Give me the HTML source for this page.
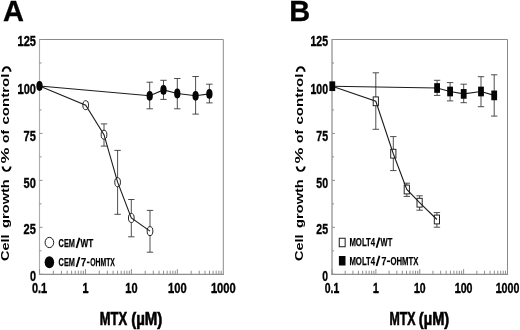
<!DOCTYPE html>
<html><head><meta charset="utf-8"><title>Cell growth vs MTX</title>
<style>
html,body{margin:0;padding:0;background:#fff;}
body{width:520px;height:330px;overflow:hidden;}
svg{display:block;will-change:transform;filter:blur(0.3px);}
text{font-family:"Liberation Sans",sans-serif;fill:#000;}
</style></head>
<body>
<svg width="520" height="330" viewBox="0 0 520 330">
<rect width="520" height="330" fill="#fff"/>
<path d="M39.5 39.5H223.3V274.3" fill="none" stroke="#8a8a8a" stroke-width="1"/>
<line x1="39.5" y1="39" x2="39.5" y2="274.3" stroke="#adadad" stroke-width="1.15"/>
<line x1="38.92" y1="274.3" x2="223.8" y2="274.3" stroke="#747474" stroke-width="1"/>
<line x1="39.5" y1="274.3" x2="42.5" y2="274.3" stroke="#8f8f8f" stroke-width="1"/>
<line x1="39.5" y1="250.82" x2="41.5" y2="250.82" stroke="#8f8f8f" stroke-width="1"/>
<line x1="39.5" y1="227.34" x2="42.5" y2="227.34" stroke="#8f8f8f" stroke-width="1"/>
<line x1="39.5" y1="203.86" x2="41.5" y2="203.86" stroke="#8f8f8f" stroke-width="1"/>
<line x1="39.5" y1="180.38" x2="42.5" y2="180.38" stroke="#8f8f8f" stroke-width="1"/>
<line x1="39.5" y1="156.9" x2="41.5" y2="156.9" stroke="#8f8f8f" stroke-width="1"/>
<line x1="39.5" y1="133.42" x2="42.5" y2="133.42" stroke="#8f8f8f" stroke-width="1"/>
<line x1="39.5" y1="109.94" x2="41.5" y2="109.94" stroke="#8f8f8f" stroke-width="1"/>
<line x1="39.5" y1="86.46" x2="42.5" y2="86.46" stroke="#8f8f8f" stroke-width="1"/>
<line x1="39.5" y1="62.98" x2="41.5" y2="62.98" stroke="#8f8f8f" stroke-width="1"/>
<line x1="39.5" y1="39.5" x2="42.5" y2="39.5" stroke="#8f8f8f" stroke-width="1"/>
<line x1="39.5" y1="274.3" x2="39.5" y2="269.1" stroke="#8f8f8f" stroke-width="1"/>
<line x1="53.33" y1="274.3" x2="53.33" y2="270.7" stroke="#8f8f8f" stroke-width="1"/>
<line x1="61.42" y1="274.3" x2="61.42" y2="270.7" stroke="#8f8f8f" stroke-width="1"/>
<line x1="67.16" y1="274.3" x2="67.16" y2="270.7" stroke="#8f8f8f" stroke-width="1"/>
<line x1="71.62" y1="274.3" x2="71.62" y2="270.7" stroke="#8f8f8f" stroke-width="1"/>
<line x1="75.26" y1="274.3" x2="75.26" y2="270.7" stroke="#8f8f8f" stroke-width="1"/>
<line x1="78.33" y1="274.3" x2="78.33" y2="270.7" stroke="#8f8f8f" stroke-width="1"/>
<line x1="81" y1="274.3" x2="81" y2="270.7" stroke="#8f8f8f" stroke-width="1"/>
<line x1="83.35" y1="274.3" x2="83.35" y2="270.7" stroke="#8f8f8f" stroke-width="1"/>
<line x1="85.45" y1="274.3" x2="85.45" y2="269.1" stroke="#8f8f8f" stroke-width="1"/>
<line x1="99.28" y1="274.3" x2="99.28" y2="270.7" stroke="#8f8f8f" stroke-width="1"/>
<line x1="107.37" y1="274.3" x2="107.37" y2="270.7" stroke="#8f8f8f" stroke-width="1"/>
<line x1="113.11" y1="274.3" x2="113.11" y2="270.7" stroke="#8f8f8f" stroke-width="1"/>
<line x1="117.57" y1="274.3" x2="117.57" y2="270.7" stroke="#8f8f8f" stroke-width="1"/>
<line x1="121.21" y1="274.3" x2="121.21" y2="270.7" stroke="#8f8f8f" stroke-width="1"/>
<line x1="124.28" y1="274.3" x2="124.28" y2="270.7" stroke="#8f8f8f" stroke-width="1"/>
<line x1="126.95" y1="274.3" x2="126.95" y2="270.7" stroke="#8f8f8f" stroke-width="1"/>
<line x1="129.3" y1="274.3" x2="129.3" y2="270.7" stroke="#8f8f8f" stroke-width="1"/>
<line x1="131.4" y1="274.3" x2="131.4" y2="269.1" stroke="#8f8f8f" stroke-width="1"/>
<line x1="145.23" y1="274.3" x2="145.23" y2="270.7" stroke="#8f8f8f" stroke-width="1"/>
<line x1="153.32" y1="274.3" x2="153.32" y2="270.7" stroke="#8f8f8f" stroke-width="1"/>
<line x1="159.06" y1="274.3" x2="159.06" y2="270.7" stroke="#8f8f8f" stroke-width="1"/>
<line x1="163.52" y1="274.3" x2="163.52" y2="270.7" stroke="#8f8f8f" stroke-width="1"/>
<line x1="167.16" y1="274.3" x2="167.16" y2="270.7" stroke="#8f8f8f" stroke-width="1"/>
<line x1="170.23" y1="274.3" x2="170.23" y2="270.7" stroke="#8f8f8f" stroke-width="1"/>
<line x1="172.9" y1="274.3" x2="172.9" y2="270.7" stroke="#8f8f8f" stroke-width="1"/>
<line x1="175.25" y1="274.3" x2="175.25" y2="270.7" stroke="#8f8f8f" stroke-width="1"/>
<line x1="177.35" y1="274.3" x2="177.35" y2="269.1" stroke="#8f8f8f" stroke-width="1"/>
<line x1="191.18" y1="274.3" x2="191.18" y2="270.7" stroke="#8f8f8f" stroke-width="1"/>
<line x1="199.27" y1="274.3" x2="199.27" y2="270.7" stroke="#8f8f8f" stroke-width="1"/>
<line x1="205.01" y1="274.3" x2="205.01" y2="270.7" stroke="#8f8f8f" stroke-width="1"/>
<line x1="209.47" y1="274.3" x2="209.47" y2="270.7" stroke="#8f8f8f" stroke-width="1"/>
<line x1="213.11" y1="274.3" x2="213.11" y2="270.7" stroke="#8f8f8f" stroke-width="1"/>
<line x1="216.18" y1="274.3" x2="216.18" y2="270.7" stroke="#8f8f8f" stroke-width="1"/>
<line x1="218.85" y1="274.3" x2="218.85" y2="270.7" stroke="#8f8f8f" stroke-width="1"/>
<line x1="221.2" y1="274.3" x2="221.2" y2="270.7" stroke="#8f8f8f" stroke-width="1"/>
<text x="35.9" y="281.3" text-anchor="end" font-size="13.9" font-weight="bold" stroke="#000" stroke-width="0.35" textLength="6.0" lengthAdjust="spacingAndGlyphs">0</text>
<text x="35.9" y="234.34" text-anchor="end" font-size="13.9" font-weight="bold" stroke="#000" stroke-width="0.35" textLength="12.3" lengthAdjust="spacingAndGlyphs">25</text>
<text x="35.9" y="187.53" text-anchor="end" font-size="13.9" font-weight="bold" stroke="#000" stroke-width="0.35" textLength="12.3" lengthAdjust="spacingAndGlyphs">50</text>
<text x="35.9" y="140.57" text-anchor="end" font-size="13.9" font-weight="bold" stroke="#000" stroke-width="0.35" textLength="12.3" lengthAdjust="spacingAndGlyphs">75</text>
<text x="35.9" y="93.61" text-anchor="end" font-size="13.9" font-weight="bold" stroke="#000" stroke-width="0.35" textLength="18.4" lengthAdjust="spacingAndGlyphs">100</text>
<rect x="18.11" y="91.91" width="5.27" height="1.7" fill="#000"/>
<text x="35.9" y="46" text-anchor="end" font-size="13.9" font-weight="bold" stroke="#000" stroke-width="0.35" textLength="18.4" lengthAdjust="spacingAndGlyphs">125</text>
<rect x="18.11" y="44.3" width="5.27" height="1.7" fill="#000"/>
<text x="39.5" y="292.8" text-anchor="middle" font-size="13.9" font-weight="bold" stroke="#000" stroke-width="0.35" textLength="15.2" lengthAdjust="spacingAndGlyphs">0.1</text>
<rect x="41.63" y="291.1" width="5.23" height="1.7" fill="#000"/>
<text x="85.45" y="292.8" text-anchor="middle" font-size="13.9" font-weight="bold" stroke="#000" stroke-width="0.35" textLength="6" lengthAdjust="spacingAndGlyphs">1</text>
<rect x="83.05" y="291.1" width="5.16" height="1.7" fill="#000"/>
<text x="131.4" y="292.8" text-anchor="middle" font-size="13.9" font-weight="bold" stroke="#000" stroke-width="0.35" textLength="12.2" lengthAdjust="spacingAndGlyphs">10</text>
<rect x="125.91" y="291.1" width="5.25" height="1.7" fill="#000"/>
<text x="177.35" y="292.8" text-anchor="middle" font-size="13.9" font-weight="bold" stroke="#000" stroke-width="0.35" textLength="18.6" lengthAdjust="spacingAndGlyphs">100</text>
<rect x="168.67" y="291.1" width="5.33" height="1.7" fill="#000"/>
<text x="223.3" y="292.8" text-anchor="middle" font-size="13.9" font-weight="bold" stroke="#000" stroke-width="0.35" textLength="24.8" lengthAdjust="spacingAndGlyphs">1000</text>
<rect x="211.52" y="291.1" width="5.33" height="1.7" fill="#000"/>
<text x="99.8" y="324.8" font-size="17.5" font-weight="bold" stroke="#000" stroke-width="0.6" textLength="27.3" lengthAdjust="spacingAndGlyphs">MTX</text>
<text x="131.2" y="324.8" font-size="17.5" font-weight="bold" stroke="#000" stroke-width="0.6" textLength="31.2" lengthAdjust="spacingAndGlyphs">(µM)</text>
<text transform="translate(9.1,261) rotate(-90)" font-size="10.2" font-weight="bold" textLength="26.6" lengthAdjust="spacingAndGlyphs">Cell</text>
<text transform="translate(9.1,227.9) rotate(-90)" font-size="10.2" font-weight="bold" textLength="48.7" lengthAdjust="spacingAndGlyphs">growth</text>
<text transform="translate(9.1,163.6) rotate(-90)" font-size="10.2" font-weight="bold" textLength="16.0" lengthAdjust="spacingAndGlyphs">%</text>
<text transform="translate(9.1,143) rotate(-90)" font-size="10.2" font-weight="bold" textLength="13.0" lengthAdjust="spacingAndGlyphs">of</text>
<text transform="translate(9.1,124.5) rotate(-90)" font-size="10.2" font-weight="bold" textLength="50.9" lengthAdjust="spacingAndGlyphs">control</text>
<path d="M2.5 166.5C3.7 172.4 9.5 172.4 10.7 166.5" fill="none" stroke="#000" stroke-width="1.9"/>
<path d="M2.5 71.7C3.7 65.8 9.5 65.8 10.7 71.7" fill="none" stroke="#000" stroke-width="1.9"/>
<text x="2.9" y="21.2" font-size="29" font-weight="bold" stroke="#000" stroke-width="0.3">A</text>
<path d="M104 123.9V146.1M100.8 123.9H107.2M100.8 146.1H107.2" stroke="#3a3a3a" stroke-width="0.9" fill="none"/>
<path d="M117.6 150.4V214.3M114.4 150.4H120.8M114.4 214.3H120.8" stroke="#3a3a3a" stroke-width="0.9" fill="none"/>
<path d="M131.3 199.5V236.8M128.1 199.5H134.5M128.1 236.8H134.5" stroke="#3a3a3a" stroke-width="0.9" fill="none"/>
<path d="M150 210.4V252.2M146.8 210.4H153.2M146.8 252.2H153.2" stroke="#3a3a3a" stroke-width="0.9" fill="none"/>
<ellipse cx="85.7" cy="105.2" rx="2.85" ry="4.5" fill="#fff" stroke="#1a1a1a" stroke-width="0.95"/>
<ellipse cx="104" cy="134.7" rx="2.85" ry="4.5" fill="#fff" stroke="#1a1a1a" stroke-width="0.95"/>
<ellipse cx="117.6" cy="182.2" rx="2.85" ry="4.5" fill="#fff" stroke="#1a1a1a" stroke-width="0.95"/>
<ellipse cx="131.3" cy="218" rx="2.85" ry="4.5" fill="#fff" stroke="#1a1a1a" stroke-width="0.95"/>
<ellipse cx="150" cy="231.1" rx="2.85" ry="4.5" fill="#fff" stroke="#1a1a1a" stroke-width="0.95"/>
<path d="M39.5 86L85.7 105.2L104 134.7L117.6 182.2L131.3 218L150 231.1" fill="none" stroke="#1c1c1c" stroke-width="1.1"/>
<path d="M149.7 82.2V108.8M146.5 82.2H152.9M146.5 108.8H152.9" stroke="#3a3a3a" stroke-width="0.9" fill="none"/>
<path d="M163.5 80.3V99.4M160.3 80.3H166.7M160.3 99.4H166.7" stroke="#3a3a3a" stroke-width="0.9" fill="none"/>
<path d="M177.3 78.5V108.8M174.1 78.5H180.5M174.1 108.8H180.5" stroke="#3a3a3a" stroke-width="0.9" fill="none"/>
<path d="M195.6 76.5V114.1M192.4 76.5H198.8M192.4 114.1H198.8" stroke="#3a3a3a" stroke-width="0.9" fill="none"/>
<path d="M209.4 84.2V102.9M206.2 84.2H212.6M206.2 102.9H212.6" stroke="#3a3a3a" stroke-width="0.9" fill="none"/>
<path d="M39.5 86L149.7 95.8L163.5 89.9L177.3 93.5L195.6 95.8L209.4 93.9" fill="none" stroke="#1c1c1c" stroke-width="1.1"/>
<ellipse cx="39.5" cy="86" rx="3.15" ry="4.9" fill="#050505"/>
<ellipse cx="149.7" cy="95.8" rx="3.15" ry="4.9" fill="#050505"/>
<ellipse cx="163.5" cy="89.9" rx="3.15" ry="4.9" fill="#050505"/>
<ellipse cx="177.3" cy="93.5" rx="3.15" ry="4.9" fill="#050505"/>
<ellipse cx="195.6" cy="95.8" rx="3.15" ry="4.9" fill="#050505"/>
<ellipse cx="209.4" cy="93.9" rx="3.15" ry="4.9" fill="#050505"/>
<ellipse cx="49.4" cy="242.5" rx="4.3" ry="5.15" fill="#fff" stroke="#1a1a1a" stroke-width="1"/>
<ellipse cx="49.4" cy="262.2" rx="4.75" ry="5.95" fill="#050505"/>
<text x="58.6" y="246.6" font-size="11.8" font-weight="bold" stroke="#000" stroke-width="0.25" textLength="16.3" lengthAdjust="spacingAndGlyphs">CEM</text>
<line x1="76.5" y1="248" x2="79.5" y2="237.8" stroke="#000" stroke-width="1.75"/>
<text x="80.6" y="246.6" font-size="11.8" font-weight="bold" stroke="#000" stroke-width="0.25" textLength="12.7" lengthAdjust="spacingAndGlyphs">WT</text>
<text x="58.6" y="265.7" font-size="11.8" font-weight="bold" stroke="#000" stroke-width="0.25" textLength="16.3" lengthAdjust="spacingAndGlyphs">CEM</text>
<line x1="76.5" y1="267.1" x2="79.5" y2="256.9" stroke="#000" stroke-width="1.75"/>
<text x="80.9" y="265.7" font-size="11.8" font-weight="bold" stroke="#000" stroke-width="0.25" textLength="5.2" lengthAdjust="spacingAndGlyphs">7</text>
<rect x="86.9" y="261.6" width="2.6" height="1.6" fill="#000"/>
<text x="90.2" y="265.7" font-size="11.8" font-weight="bold" stroke="#000" stroke-width="0.25" textLength="24.7" lengthAdjust="spacingAndGlyphs">OHMTX</text>
<path d="M332 39.5H507.5V274.3" fill="none" stroke="#8a8a8a" stroke-width="1"/>
<line x1="332" y1="39" x2="332" y2="274.3" stroke="#adadad" stroke-width="1.7"/>
<line x1="331.15" y1="274.3" x2="508" y2="274.3" stroke="#747474" stroke-width="1"/>
<line x1="332" y1="274.3" x2="335" y2="274.3" stroke="#8f8f8f" stroke-width="1"/>
<line x1="332" y1="250.82" x2="334" y2="250.82" stroke="#8f8f8f" stroke-width="1"/>
<line x1="332" y1="227.34" x2="335" y2="227.34" stroke="#8f8f8f" stroke-width="1"/>
<line x1="332" y1="203.86" x2="334" y2="203.86" stroke="#8f8f8f" stroke-width="1"/>
<line x1="332" y1="180.38" x2="335" y2="180.38" stroke="#8f8f8f" stroke-width="1"/>
<line x1="332" y1="156.9" x2="334" y2="156.9" stroke="#8f8f8f" stroke-width="1"/>
<line x1="332" y1="133.42" x2="335" y2="133.42" stroke="#8f8f8f" stroke-width="1"/>
<line x1="332" y1="109.94" x2="334" y2="109.94" stroke="#8f8f8f" stroke-width="1"/>
<line x1="332" y1="86.46" x2="335" y2="86.46" stroke="#8f8f8f" stroke-width="1"/>
<line x1="332" y1="62.98" x2="334" y2="62.98" stroke="#8f8f8f" stroke-width="1"/>
<line x1="332" y1="39.5" x2="335" y2="39.5" stroke="#8f8f8f" stroke-width="1"/>
<line x1="332" y1="274.3" x2="332" y2="269.1" stroke="#8f8f8f" stroke-width="1"/>
<line x1="345.21" y1="274.3" x2="345.21" y2="270.7" stroke="#8f8f8f" stroke-width="1"/>
<line x1="352.93" y1="274.3" x2="352.93" y2="270.7" stroke="#8f8f8f" stroke-width="1"/>
<line x1="358.42" y1="274.3" x2="358.42" y2="270.7" stroke="#8f8f8f" stroke-width="1"/>
<line x1="362.67" y1="274.3" x2="362.67" y2="270.7" stroke="#8f8f8f" stroke-width="1"/>
<line x1="366.14" y1="274.3" x2="366.14" y2="270.7" stroke="#8f8f8f" stroke-width="1"/>
<line x1="369.08" y1="274.3" x2="369.08" y2="270.7" stroke="#8f8f8f" stroke-width="1"/>
<line x1="371.62" y1="274.3" x2="371.62" y2="270.7" stroke="#8f8f8f" stroke-width="1"/>
<line x1="373.87" y1="274.3" x2="373.87" y2="270.7" stroke="#8f8f8f" stroke-width="1"/>
<line x1="375.88" y1="274.3" x2="375.88" y2="269.1" stroke="#8f8f8f" stroke-width="1"/>
<line x1="389.08" y1="274.3" x2="389.08" y2="270.7" stroke="#8f8f8f" stroke-width="1"/>
<line x1="396.81" y1="274.3" x2="396.81" y2="270.7" stroke="#8f8f8f" stroke-width="1"/>
<line x1="402.29" y1="274.3" x2="402.29" y2="270.7" stroke="#8f8f8f" stroke-width="1"/>
<line x1="406.54" y1="274.3" x2="406.54" y2="270.7" stroke="#8f8f8f" stroke-width="1"/>
<line x1="410.02" y1="274.3" x2="410.02" y2="270.7" stroke="#8f8f8f" stroke-width="1"/>
<line x1="412.95" y1="274.3" x2="412.95" y2="270.7" stroke="#8f8f8f" stroke-width="1"/>
<line x1="415.5" y1="274.3" x2="415.5" y2="270.7" stroke="#8f8f8f" stroke-width="1"/>
<line x1="417.74" y1="274.3" x2="417.74" y2="270.7" stroke="#8f8f8f" stroke-width="1"/>
<line x1="419.75" y1="274.3" x2="419.75" y2="269.1" stroke="#8f8f8f" stroke-width="1"/>
<line x1="432.96" y1="274.3" x2="432.96" y2="270.7" stroke="#8f8f8f" stroke-width="1"/>
<line x1="440.68" y1="274.3" x2="440.68" y2="270.7" stroke="#8f8f8f" stroke-width="1"/>
<line x1="446.17" y1="274.3" x2="446.17" y2="270.7" stroke="#8f8f8f" stroke-width="1"/>
<line x1="450.42" y1="274.3" x2="450.42" y2="270.7" stroke="#8f8f8f" stroke-width="1"/>
<line x1="453.89" y1="274.3" x2="453.89" y2="270.7" stroke="#8f8f8f" stroke-width="1"/>
<line x1="456.83" y1="274.3" x2="456.83" y2="270.7" stroke="#8f8f8f" stroke-width="1"/>
<line x1="459.37" y1="274.3" x2="459.37" y2="270.7" stroke="#8f8f8f" stroke-width="1"/>
<line x1="461.62" y1="274.3" x2="461.62" y2="270.7" stroke="#8f8f8f" stroke-width="1"/>
<line x1="463.62" y1="274.3" x2="463.62" y2="269.1" stroke="#8f8f8f" stroke-width="1"/>
<line x1="476.83" y1="274.3" x2="476.83" y2="270.7" stroke="#8f8f8f" stroke-width="1"/>
<line x1="484.56" y1="274.3" x2="484.56" y2="270.7" stroke="#8f8f8f" stroke-width="1"/>
<line x1="490.04" y1="274.3" x2="490.04" y2="270.7" stroke="#8f8f8f" stroke-width="1"/>
<line x1="494.29" y1="274.3" x2="494.29" y2="270.7" stroke="#8f8f8f" stroke-width="1"/>
<line x1="497.77" y1="274.3" x2="497.77" y2="270.7" stroke="#8f8f8f" stroke-width="1"/>
<line x1="500.7" y1="274.3" x2="500.7" y2="270.7" stroke="#8f8f8f" stroke-width="1"/>
<line x1="503.25" y1="274.3" x2="503.25" y2="270.7" stroke="#8f8f8f" stroke-width="1"/>
<line x1="505.49" y1="274.3" x2="505.49" y2="270.7" stroke="#8f8f8f" stroke-width="1"/>
<text x="328.1" y="281.3" text-anchor="end" font-size="13.9" font-weight="bold" stroke="#000" stroke-width="0.35" textLength="5.7299999999999995" lengthAdjust="spacingAndGlyphs">0</text>
<text x="328.1" y="234.34" text-anchor="end" font-size="13.9" font-weight="bold" stroke="#000" stroke-width="0.35" textLength="11.746500000000001" lengthAdjust="spacingAndGlyphs">25</text>
<text x="328.1" y="187.53" text-anchor="end" font-size="13.9" font-weight="bold" stroke="#000" stroke-width="0.35" textLength="11.746500000000001" lengthAdjust="spacingAndGlyphs">50</text>
<text x="328.1" y="140.57" text-anchor="end" font-size="13.9" font-weight="bold" stroke="#000" stroke-width="0.35" textLength="11.746500000000001" lengthAdjust="spacingAndGlyphs">75</text>
<text x="328.1" y="93.61" text-anchor="end" font-size="13.9" font-weight="bold" stroke="#000" stroke-width="0.35" textLength="17.572" lengthAdjust="spacingAndGlyphs">100</text>
<rect x="311.11" y="91.91" width="5.04" height="1.7" fill="#000"/>
<text x="328.1" y="46" text-anchor="end" font-size="13.9" font-weight="bold" stroke="#000" stroke-width="0.35" textLength="17.572" lengthAdjust="spacingAndGlyphs">125</text>
<rect x="311.11" y="44.3" width="5.04" height="1.7" fill="#000"/>
<text x="332" y="292.8" text-anchor="middle" font-size="13.9" font-weight="bold" stroke="#000" stroke-width="0.35" textLength="14.515999999999998" lengthAdjust="spacingAndGlyphs">0.1</text>
<rect x="334.03" y="291.1" width="4.99" height="1.7" fill="#000"/>
<text x="375.88" y="292.8" text-anchor="middle" font-size="13.9" font-weight="bold" stroke="#000" stroke-width="0.35" textLength="5.7299999999999995" lengthAdjust="spacingAndGlyphs">1</text>
<rect x="373.58" y="291.1" width="4.93" height="1.7" fill="#000"/>
<text x="419.75" y="292.8" text-anchor="middle" font-size="13.9" font-weight="bold" stroke="#000" stroke-width="0.35" textLength="11.650999999999998" lengthAdjust="spacingAndGlyphs">10</text>
<rect x="414.51" y="291.1" width="5.01" height="1.7" fill="#000"/>
<text x="463.62" y="292.8" text-anchor="middle" font-size="13.9" font-weight="bold" stroke="#000" stroke-width="0.35" textLength="17.763" lengthAdjust="spacingAndGlyphs">100</text>
<rect x="455.34" y="291.1" width="5.09" height="1.7" fill="#000"/>
<text x="507.5" y="292.8" text-anchor="middle" font-size="13.9" font-weight="bold" stroke="#000" stroke-width="0.35" textLength="23.684" lengthAdjust="spacingAndGlyphs">1000</text>
<rect x="496.25" y="291.1" width="5.09" height="1.7" fill="#000"/>
<text x="389.45" y="324.8" font-size="17.5" font-weight="bold" stroke="#000" stroke-width="0.6" textLength="26.1" lengthAdjust="spacingAndGlyphs">MTX</text>
<text x="418.85" y="324.8" font-size="17.5" font-weight="bold" stroke="#000" stroke-width="0.6" textLength="30.4" lengthAdjust="spacingAndGlyphs">(µM)</text>
<text transform="translate(303.2,261) rotate(-90)" font-size="10.2" font-weight="bold" textLength="26.6" lengthAdjust="spacingAndGlyphs">Cell</text>
<text transform="translate(303.2,227.9) rotate(-90)" font-size="10.2" font-weight="bold" textLength="48.7" lengthAdjust="spacingAndGlyphs">growth</text>
<text transform="translate(303.2,163.6) rotate(-90)" font-size="10.2" font-weight="bold" textLength="16.0" lengthAdjust="spacingAndGlyphs">%</text>
<text transform="translate(303.2,143) rotate(-90)" font-size="10.2" font-weight="bold" textLength="13.0" lengthAdjust="spacingAndGlyphs">of</text>
<text transform="translate(303.2,124.5) rotate(-90)" font-size="10.2" font-weight="bold" textLength="50.9" lengthAdjust="spacingAndGlyphs">control</text>
<path d="M296.6 166.5C297.8 172.4 303.6 172.4 304.8 166.5" fill="none" stroke="#000" stroke-width="1.9"/>
<path d="M296.6 71.7C297.8 65.8 303.6 65.8 304.8 71.7" fill="none" stroke="#000" stroke-width="1.9"/>
<text x="289.3" y="21.2" font-size="29" font-weight="bold" stroke="#000" stroke-width="0.3">B</text>
<path d="M375.8 72.8V129.3M372.6 72.8H379M372.6 129.3H379" stroke="#3a3a3a" stroke-width="0.9" fill="none"/>
<path d="M393.3 136.6V170.6M390.1 136.6H396.5M390.1 170.6H396.5" stroke="#3a3a3a" stroke-width="0.9" fill="none"/>
<path d="M406.8 183.2V196.4M403.6 183.2H410M403.6 196.4H410" stroke="#3a3a3a" stroke-width="0.9" fill="none"/>
<path d="M419.6 195.8V210.2M416.4 195.8H422.8M416.4 210.2H422.8" stroke="#3a3a3a" stroke-width="0.9" fill="none"/>
<path d="M436.9 212.6V227.2M433.7 212.6H440.1M433.7 227.2H440.1" stroke="#3a3a3a" stroke-width="0.9" fill="none"/>
<rect x="373.2" y="96.9" width="5.2" height="8.8" fill="#fff" stroke="#1a1a1a" stroke-width="0.95"/>
<rect x="390.7" y="149.3" width="5.2" height="8.8" fill="#fff" stroke="#1a1a1a" stroke-width="0.95"/>
<rect x="404.2" y="185.1" width="5.2" height="8.8" fill="#fff" stroke="#1a1a1a" stroke-width="0.95"/>
<rect x="417" y="198.3" width="5.2" height="8.8" fill="#fff" stroke="#1a1a1a" stroke-width="0.95"/>
<rect x="434.3" y="215.1" width="5.2" height="8.8" fill="#fff" stroke="#1a1a1a" stroke-width="0.95"/>
<path d="M332.3 86.2L375.8 101.3L393.3 153.7L406.8 189.5L419.6 202.7L436.9 219.5" fill="none" stroke="#1c1c1c" stroke-width="1.1"/>
<path d="M437.1 80.3V95.4M433.9 80.3H440.3M433.9 95.4H440.3" stroke="#3a3a3a" stroke-width="0.9" fill="none"/>
<path d="M450.1 82.6V100.9M446.9 82.6H453.3M446.9 100.9H453.3" stroke="#3a3a3a" stroke-width="0.9" fill="none"/>
<path d="M463.7 84.2V102.7M460.5 84.2H466.9M460.5 102.7H466.9" stroke="#3a3a3a" stroke-width="0.9" fill="none"/>
<path d="M481 76.7V106.7M477.8 76.7H484.2M477.8 106.7H484.2" stroke="#3a3a3a" stroke-width="0.9" fill="none"/>
<path d="M494.2 74.8V116.1M491 74.8H497.4M491 116.1H497.4" stroke="#3a3a3a" stroke-width="0.9" fill="none"/>
<path d="M332.3 86.2L437.1 88L450.1 91.5L463.7 93.9L481 91.5L494.2 95.4" fill="none" stroke="#1c1c1c" stroke-width="1.1"/>
<rect x="329.4" y="81.35" width="5.8" height="9.7" fill="#050505"/>
<rect x="434.2" y="83.15" width="5.8" height="9.7" fill="#050505"/>
<rect x="447.2" y="86.65" width="5.8" height="9.7" fill="#050505"/>
<rect x="460.8" y="89.05" width="5.8" height="9.7" fill="#050505"/>
<rect x="478.1" y="86.65" width="5.8" height="9.7" fill="#050505"/>
<rect x="491.3" y="90.55" width="5.8" height="9.7" fill="#050505"/>
<rect x="339.25" y="238.25" width="5.9" height="8.5" fill="#fff" stroke="#1a1a1a" stroke-width="1"/>
<rect x="338.9" y="256" width="6.6" height="9.5" fill="#050505"/>
<text x="349.4" y="246.4" font-size="11.8" font-weight="bold" stroke="#000" stroke-width="0.25" textLength="25.7" lengthAdjust="spacingAndGlyphs">MOLT4</text>
<line x1="376.5" y1="247.8" x2="379.5" y2="237.6" stroke="#000" stroke-width="1.75"/>
<text x="380.6" y="246.4" font-size="11.8" font-weight="bold" stroke="#000" stroke-width="0.25" textLength="11.7" lengthAdjust="spacingAndGlyphs">WT</text>
<text x="349.4" y="264.6" font-size="11.8" font-weight="bold" stroke="#000" stroke-width="0.25" textLength="25.7" lengthAdjust="spacingAndGlyphs">MOLT4</text>
<line x1="376.5" y1="266" x2="379.5" y2="255.8" stroke="#000" stroke-width="1.75"/>
<text x="381.4" y="264.6" font-size="11.8" font-weight="bold" stroke="#000" stroke-width="0.25" textLength="4.9" lengthAdjust="spacingAndGlyphs">7</text>
<rect x="386.9" y="260.5" width="3.1" height="1.6" fill="#000"/>
<text x="390.4" y="264.6" font-size="11.8" font-weight="bold" stroke="#000" stroke-width="0.25" textLength="27.9" lengthAdjust="spacingAndGlyphs">OHMTX</text>
</svg>
</body></html>
